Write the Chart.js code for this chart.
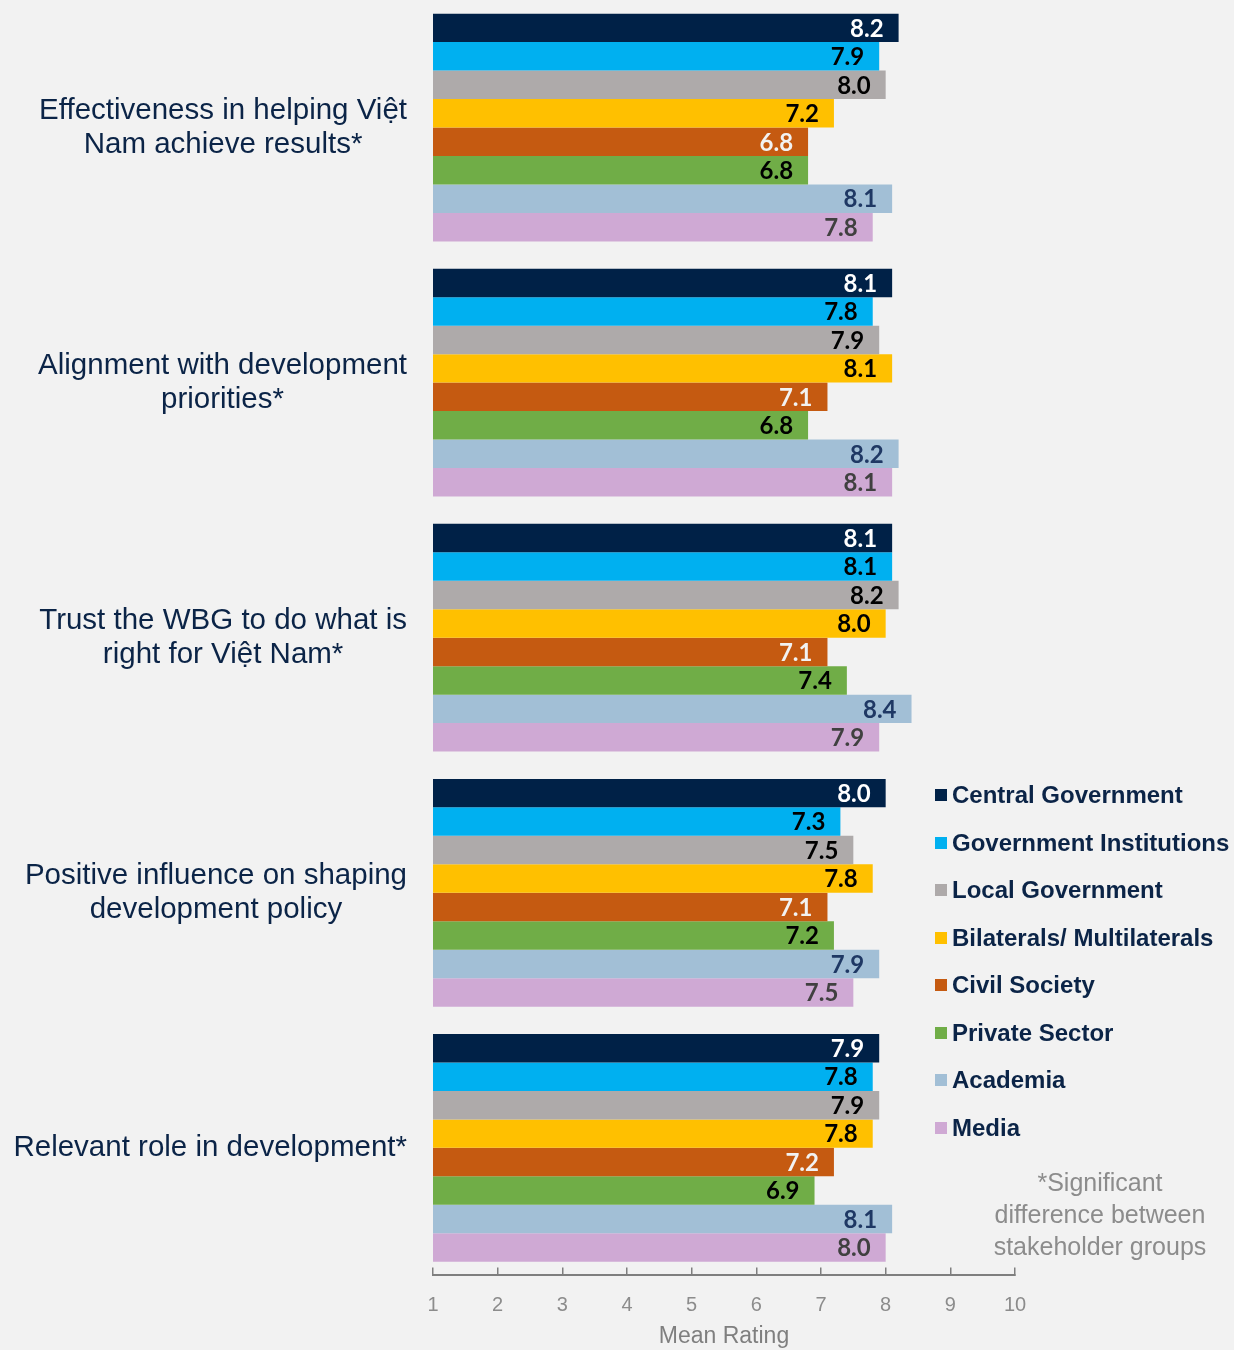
<!DOCTYPE html>
<html>
<head>
<meta charset="utf-8">
<script src="https://cdn.jsdelivr.net/npm/chart.js@4/dist/chart.umd.min.js"></script>
<style>
  body { margin: 0; background: #f2f2f2; }
  #wrap { position: relative; width: 1234px; height: 1350px; }
  #legend { position: absolute; left: 935px; top: 780px; font: bold 24px "Liberation Sans", Arial, sans-serif; color: #0b2447; }
  #legend div { height: 47.5px; line-height: 30px; white-space: nowrap; }
  #legend span { display: inline-block; width: 12px; height: 12px; margin-right: 5px; vertical-align: 2px; }
  #note { position: absolute; left: 960px; top: 1166px; width: 280px; text-align: center; font: 25px "Liberation Sans Narrow", "Arial Narrow", "Liberation Sans", sans-serif; color: #8c8c8c; line-height: 32px; }
</style>
</head>
<body>
<div id="wrap">
  <canvas id="grafico" width="1234" height="1350"></canvas>
  <div id="legend"></div>
  <div id="note">*Significant<br>difference between<br>stakeholder groups</div>
</div>
<script>
const categorias = [
  ['Effectiveness in helping Việt', 'Nam achieve results*'],
  ['Alignment with development', 'priorities*'],
  ['Trust the WBG to do what is', 'right for Việt Nam*'],
  ['Positive influence on shaping', 'development policy'],
  ['Relevant role in development*']
];
const grupos = ['Central Government', 'Government Institutions', 'Local Government', 'Bilaterals/ Multilaterals',
  'Civil Society', 'Private Sector', 'Academia', 'Media'];
const centralGov = [8.2, 8.1, 8.1, 8.0, 7.9];
const govInst = [7.9, 7.8, 8.1, 7.3, 7.8];
const localGov = [8.0, 7.9, 8.2, 7.5, 7.9];
const bilaterais = [7.2, 8.1, 8.0, 7.8, 7.8];
const civil = [6.8, 7.1, 7.1, 7.1, 7.2];
const privado = [6.8, 6.8, 7.4, 7.2, 6.9];
const academia = [8.1, 8.2, 8.4, 7.9, 8.1];
const media = [7.8, 8.1, 7.9, 7.5, 8.0];
const ticksX = [1, 2, 3, 4, 5, 6, 7, 8, 9, 10];

const cores = ['#002147', '#00b0f0', '#aeaaaa', '#ffc000', '#c55a11', '#70ad47', '#a2bfd6', '#cfa9d4'];
const coresTexto = ['#ffffff', '#000000', '#000000', '#000000', '#f2f2f2', '#000000', '#1f3864', '#404040'];
const series = [centralGov, govInst, localGov, bilaterais, civil, privado, academia, media];

// rotulos das categorias: bloco alinhado a direita, linhas centralizadas
const rotulosCategoria = {
  id: 'rotulosCategoria',
  afterDraw(chart) {
    const ctx = chart.ctx;
    const y = chart.scales.y;
    ctx.save();
    ctx.font = '29.5px "Liberation Sans", Arial, sans-serif';
    ctx.fillStyle = '#0b2447';
    ctx.textAlign = 'center';
    ctx.textBaseline = 'middle';
    categorias.forEach((linhas, i) => {
      const largura = Math.max(...linhas.map(l => ctx.measureText(l).width));
      const cx = 407 - largura / 2;
      const cy = y.getPixelForValue(i);
      linhas.forEach((l, k) => {
        ctx.fillText(l, cx, cy + (k - (linhas.length - 1) / 2) * 34);
      });
    });
    ctx.restore();
  }
};

// valores dentro da ponta das barras
const valores = {
  id: 'valores',
  afterDatasetsDraw(chart) {
    const ctx = chart.ctx;
    ctx.save();
    ctx.font = 'bold 24px Lato, "Liberation Sans", sans-serif';
    ctx.textAlign = 'right';
    ctx.textBaseline = 'middle';
    chart.data.datasets.forEach((ds, d) => {
      chart.getDatasetMeta(d).data.forEach((bar, i) => {
        ctx.fillStyle = coresTexto[d];
        ctx.fillText(ds.data[i].toFixed(1), bar.x - 15, bar.y + 1);
      });
    });
    ctx.restore();
  }
};

new Chart(document.getElementById('grafico').getContext('2d'), {
  type: 'bar',
  data: {
    labels: categorias,
    datasets: series.map((s, i) => ({
      label: grupos[i],
      data: s,
      backgroundColor: cores[i],
      categoryPercentage: 0.893,
      barPercentage: 1
    }))
  },
  options: {
    indexAxis: 'y',
    responsive: false,
    animation: false,
    layout: { padding: { left: 425, right: 219, top: 0, bottom: 0 } },
    plugins: { legend: { display: false }, tooltip: { enabled: false } },
    scales: {
      x: {
        min: 1,
        max: 10,
        afterBuildTicks(axis) { axis.ticks = ticksX.map(v => ({ value: v })); },
        grid: { drawOnChartArea: false, drawTicks: true, tickLength: -8, color: '#7f7f7f', lineWidth: 1.5 },
        border: { display: true, color: '#7f7f7f', width: 2 },
        ticks: { color: '#8c8c8c', padding: 26, font: { size: 20, family: '"Liberation Sans Narrow", "Arial Narrow", "Liberation Sans", sans-serif' } },
        title: { display: true, text: 'Mean Rating', color: '#7f7f7f', padding: { top: -21, bottom: 0 },
          font: { size: 23, family: '"Liberation Sans Narrow", "Arial Narrow", "Liberation Sans", sans-serif' } }
      },
      y: {
        ticks: { display: false },
        grid: { display: false },
        border: { display: false }
      }
    }
  },
  plugins: [rotulosCategoria, valores]
});

const legenda = document.getElementById('legend');
grupos.forEach((g, i) => {
  const linha = document.createElement('div');
  linha.innerHTML = '<span style="background:' + cores[i] + '"></span>' + g;
  legenda.appendChild(linha);
});
</script>
</body>
</html>
